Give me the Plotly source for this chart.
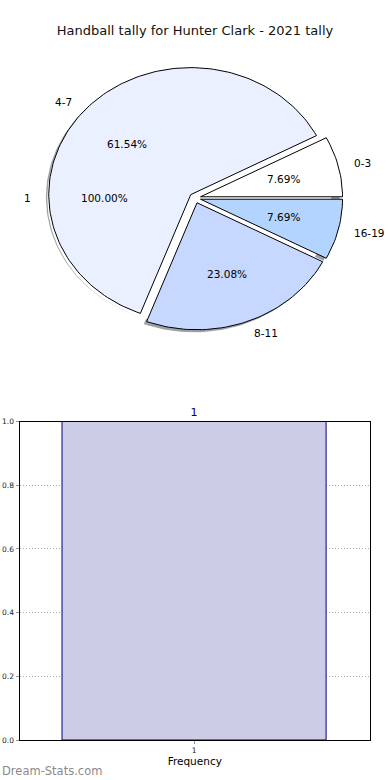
import numpy as np
import plotly.graph_objects as go

# ---- data ----
title_text = "Handball tally for Hunter Clark - 2021 tally"
pie_labels = ["0-3", "4-7", "8-11", "16-19"]
pie_values = [1, 8, 3, 1]
pie_colors = ["#ffffff", "#eaf0ff", "#c6d8ff", "#b3d4ff"]
ghost_labels = ["1"]
ghost_values = [1]
bar_categories = [1]
bar_values = [1]
y_ticks = [0.0, 0.2, 0.4, 0.6, 0.8, 1.0]

# ---- pie geometry (matplotlib-like, non-equal aspect) ----
EXPLODE = 0.04
LABEL_DIST = 1.1
PCT_DIST = 0.6
SHADOW = (-0.02, -0.02)
W, H = 390, 780
CX, CY = 195, 198      # pixel centre
RX, RY = 142, 127      # pixel radii
PIE_Y_DOM = (0.54, 0.95)
top_px = H * (1 - PIE_Y_DOM[1])
bot_px = H * (1 - PIE_Y_DOM[0])
xr = [-CX / RX, (W - CX) / RX]
yr = [-(bot_px - CY) / RY, (CY - top_px) / RY]

FONT = "DejaVu Sans"

def hex_rgb(h):
    h = h.lstrip("#")
    return tuple(int(h[i:i + 2], 16) for i in (0, 2, 4))

fig = go.Figure()
annotations = []

def wedges(values):
    total = float(sum(values))
    fr = np.array(values, dtype=float) / total
    ends = np.cumsum(fr) * 360.0
    starts = ends - fr * 360.0
    return fr, starts, ends

fr, starts, ends = wedges(pie_values)
gfr, gst, gen = wedges(ghost_values)

def wedge_xy(t1, t2, off, full=False):
    n = max(int((t2 - t1) / 1.5), 3)
    t = np.radians(np.linspace(t1, t2, n))
    if full:
        return np.cos(t) + off[0], np.sin(t) + off[1]
    xs = np.concatenate([[0], np.cos(t), [0]]) + off[0]
    ys = np.concatenate([[0], np.sin(t), [0]]) + off[1]
    return xs, ys

# shadows first
for lab, t1, t2, col in zip(pie_labels, starts, ends, pie_colors):
    mid = np.radians((t1 + t2) / 2)
    off = (EXPLODE * np.cos(mid) + SHADOW[0], EXPLODE * np.sin(mid) + SHADOW[1])
    xs, ys = wedge_xy(t1, t2, off)
    r, g, b = hex_rgb(col)
    fig.add_trace(go.Scatter(x=xs, y=ys, xaxis="x2", yaxis="y2", mode="lines",
                             fill="toself", fillcolor=f"rgba({r*0.3:.0f},{g*0.3:.0f},{b*0.3:.0f},0.5)",
                             line=dict(width=0), hoverinfo="skip", showlegend=False))

# ghost (single-slice) pie: white, no edge, sits over the shadows
for lab, t1, t2 in zip(ghost_labels, gst, gen):
    mid = np.radians((t1 + t2) / 2)
    off = (EXPLODE * np.cos(mid), EXPLODE * np.sin(mid))
    xs, ys = wedge_xy(t1, t2, off, full=True)
    fig.add_trace(go.Scatter(x=xs, y=ys, xaxis="x2", yaxis="y2", mode="lines",
                             fill="toself", fillcolor="white",
                             line=dict(width=0), hoverinfo="skip", showlegend=False))

# wedges
for lab, t1, t2, col, f in zip(pie_labels, starts, ends, pie_colors, fr):
    mid = np.radians((t1 + t2) / 2)
    off = (EXPLODE * np.cos(mid), EXPLODE * np.sin(mid))
    xs, ys = wedge_xy(t1, t2, off)
    fig.add_trace(go.Scatter(x=xs, y=ys, xaxis="x2", yaxis="y2", mode="lines",
                             fill="toself", fillcolor=col,
                             line=dict(color="black", width=1), name=lab,
                             hoverinfo="name", showlegend=False))
    lx = off[0] + LABEL_DIST * np.cos(mid)
    ly = off[1] + LABEL_DIST * np.sin(mid)
    annotations.append(dict(x=lx, y=ly, xref="x2", yref="y2", text=lab, showarrow=False,
                            xanchor="left" if lx > 0 else "right", yanchor="middle",
                            font=dict(family=FONT, size=10.5, color="black")))
    px = off[0] + PCT_DIST * np.cos(mid)
    py = off[1] + PCT_DIST * np.sin(mid)
    annotations.append(dict(x=px, y=py, xref="x2", yref="y2", text=f"{f*100:.2f}%",
                            showarrow=False, xanchor="center", yanchor="middle",
                            font=dict(family=FONT, size=10.5, color="black")))

# ghost pie texts
for lab, t1, t2, f in zip(ghost_labels, gst, gen, gfr):
    mid = np.radians((t1 + t2) / 2)
    off = (EXPLODE * np.cos(mid), EXPLODE * np.sin(mid))
    lx = off[0] + LABEL_DIST * np.cos(mid)
    ly = off[1] + LABEL_DIST * np.sin(mid)
    annotations.append(dict(x=lx, y=ly, xref="x2", yref="y2", text=lab, showarrow=False,
                            xanchor="left" if lx > 0 else "right", yanchor="middle",
                            font=dict(family=FONT, size=10.5, color="black")))
    px = off[0] + PCT_DIST * np.cos(mid)
    py = off[1] + PCT_DIST * np.sin(mid)
    annotations.append(dict(x=px, y=py, xref="x2", yref="y2", text=f"{f*100:.2f}%",
                            showarrow=False, xanchor="center", yanchor="middle",
                            font=dict(family=FONT, size=10.5, color="black")))

# ---- bar chart ----
fig.add_trace(go.Bar(x=bar_categories, y=bar_values, width=0.8,
                     marker=dict(color="rgb(204,204,230)", line=dict(color="#000080", width=1)),
                     text=[str(c) for c in bar_categories], textposition="outside",
                     textfont=dict(family=FONT, size=11, color="#000080"),
                     cliponaxis=False, showlegend=False, hoverinfo="x+y"))

annotations.append(dict(x=0.0, y=0.0, xref="paper", yref="paper", xanchor="left", yanchor="bottom",
                        text="Dream-Stats.com", showarrow=False,
                        font=dict(family=FONT, size=11.5, color="#8a8a8a")))

grid_dash = "1px,2px"
fig.update_layout(
    width=W, height=H,
    margin=dict(l=0, r=0, t=0, b=0, autoexpand=False),
    paper_bgcolor="white", plot_bgcolor="white",
    showlegend=False,
    title=dict(text=title_text, x=0.5, xanchor="center", y=1 - 30 / H, yanchor="middle",
               font=dict(family=FONT, size=13, color="#111")),
    font=dict(family=FONT),
    xaxis=dict(domain=[19.5 / W, 370 / W], range=[0.4712, 1.533], automargin=False,
               tickvals=bar_categories, ticktext=[str(c) for c in bar_categories],
               tickfont=dict(size=7.5, color="#222"), ticks="outside", ticklen=3, tickcolor="#999",
               showgrid=True, gridcolor="#a8a8a8", griddash=grid_dash, gridwidth=1,
               showline=True, linecolor="black", linewidth=1, mirror=True, zeroline=False,
               title=dict(text="Frequency", font=dict(size=10.5, color="black"), standoff=2)),
    yaxis=dict(domain=[1 - 740 / H, 1 - 421.5 / H], range=[0, 1], automargin=False,
               tickvals=y_ticks, tickformat=".1f",
               tickfont=dict(size=7.5, color="#222"), ticks="outside", ticklen=3, tickcolor="#999",
               showgrid=True, gridcolor="#a8a8a8", griddash=grid_dash, gridwidth=1,
               showline=True, linecolor="black", linewidth=1, mirror=True, zeroline=False),
    xaxis2=dict(domain=[0, 1], range=xr, visible=False, fixedrange=True, anchor="y2", automargin=False),
    yaxis2=dict(domain=list(PIE_Y_DOM), range=yr, visible=False, fixedrange=True, anchor="x2", automargin=False),
    annotations=annotations,
)

fig.write_html("out.html", config={"displayModeBar": False},
               post_script="document.body.style.margin='0px';")
